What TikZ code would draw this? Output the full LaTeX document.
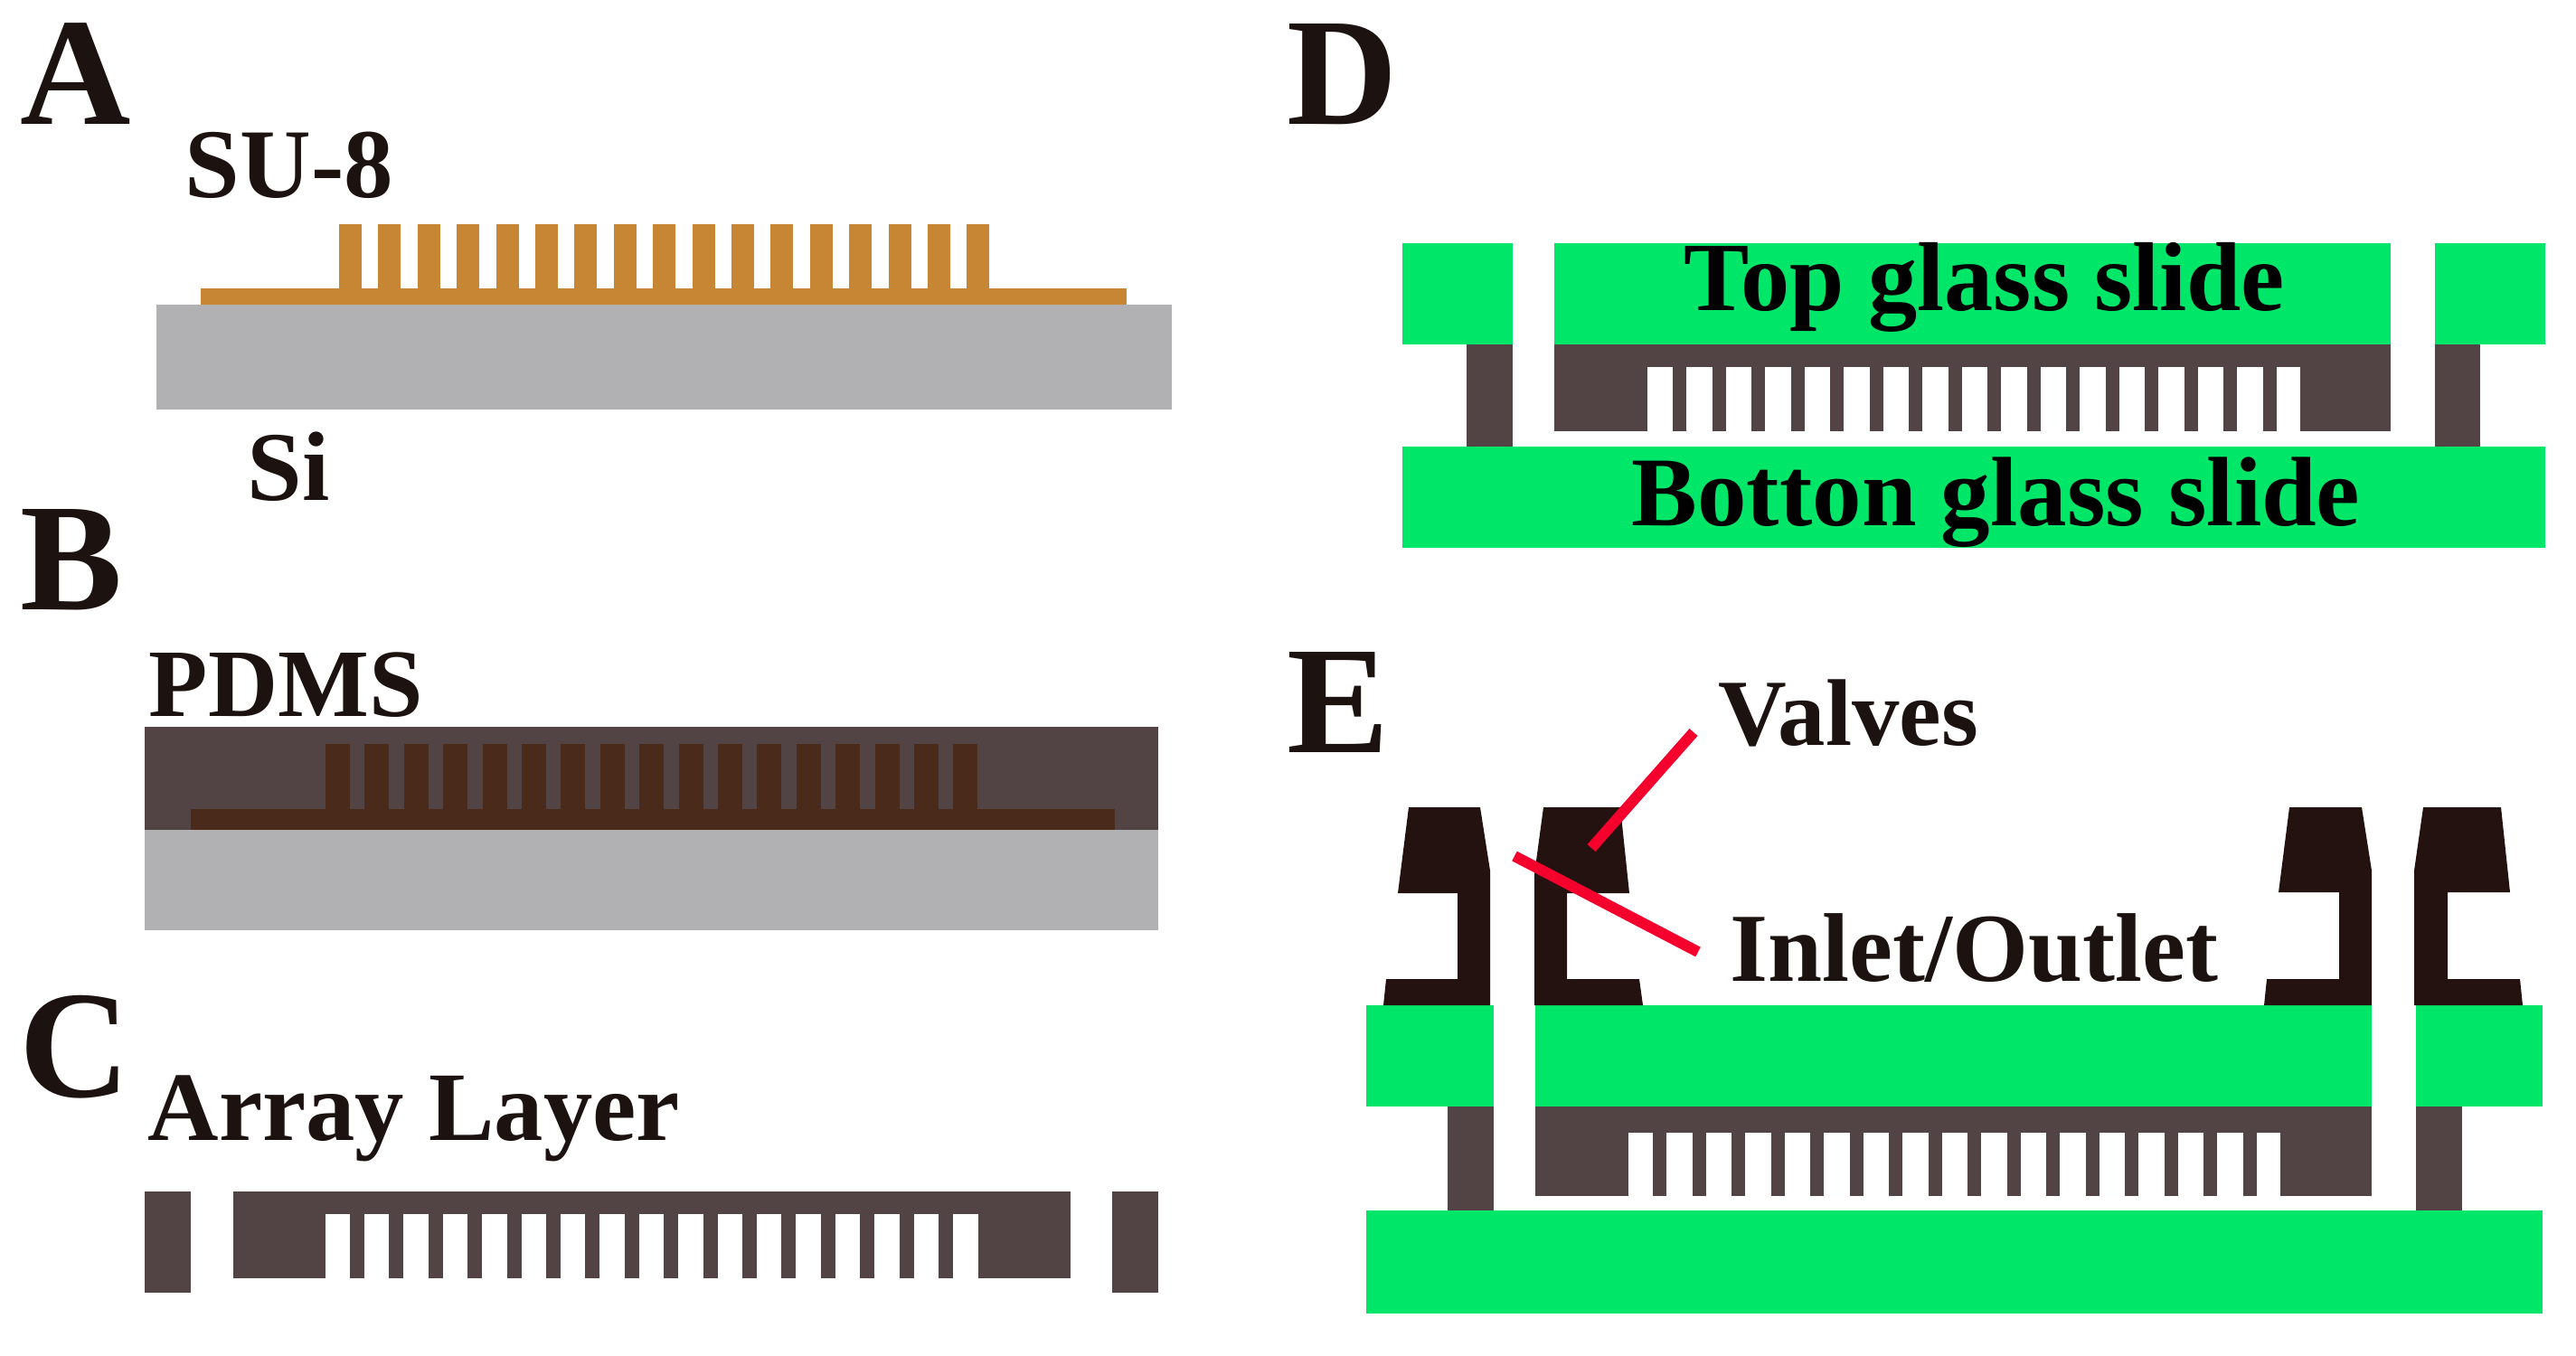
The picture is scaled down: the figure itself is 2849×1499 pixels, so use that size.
\documentclass[tikz,border=0pt]{standalone}
\usepackage{fontspec}
\setmainfont{Liberation Serif}
\usetikzlibrary{positioning}
\definecolor{six}{HTML}{B1B1B3}
\definecolor{sux}{HTML}{C68633}
\definecolor{pdmsx}{HTML}{524444}
\definecolor{moldx}{HTML}{4A2A1A}
\definecolor{glassx}{HTML}{00E668}
\definecolor{valvex}{HTML}{23120F}
\definecolor{redx}{HTML}{F5002D}
\definecolor{inkx}{HTML}{1C1210}
\tikzset{
  panel/.style={font=\fontsize{48.2}{50}\selectfont\bfseries,text=inkx,anchor=base west,inner sep=0pt},
  lab/.style={font=\fontsize{#1}{32}\selectfont\bfseries,text=inkx,anchor=base west,inner sep=0pt},
  lab/.default=30.4,
  ln/.style={redx,line width=0.12cm}
}

\begin{document}
\begin{tikzpicture}[x=0.01cm,y=-0.01cm]
\useasboundingbox (0,0) rectangle (2849,1499);
% A
\fill[six] (173,337) rectangle (1296,453);
\fill[sux] (222,319) rectangle (1246,337);
\foreach \i in {0,...,16} \fill[sux] ({375+43.4*\i},248) rectangle ++(25,72);
\node[panel] (pa) at (22,137) {A};
\node[lab=31] (su) at (204,218) {SU-8};
\node[lab=31] (si) at (273,553) {Si};
% B
\fill[six] (160,918) rectangle (1281,1029);
\fill[pdmsx] (160,804) rectangle (1281,918);
\fill[moldx] (211,895) rectangle (1233,918);
\foreach \i in {0,...,16} \fill[moldx] ({360+43.4*\i},823) rectangle ++(27,73);
\node[panel] (pb) at (22,674) {B};
\node[lab] (pd) at (164,792) {PDMS};
% C
\fill[pdmsx] (160,1318) rectangle (211,1430);
\fill[pdmsx] (1230,1318) rectangle (1281,1430);
\fill[pdmsx] (258,1318) rectangle (1184,1414);
\fill[white] (360,1343) rectangle (1082,1415);
\foreach \i in {0,...,15} \fill[pdmsx] ({387+43.4*\i},1343) rectangle ++(16,71);
\node[panel] (pc) at (21,1213) {C};
\node[lab=30.9] (ar) at (163,1261) {Array Layer};
% D
\fill[glassx] (1551,269) rectangle (1673,381);
\fill[glassx] (1719,269) rectangle (2644,381);
\fill[glassx] (2693,269) rectangle (2815,381);
\fill[glassx] (1551,494) rectangle (2815,606);
\fill[pdmsx] (1622,381) rectangle (1673,494);
\fill[pdmsx] (2693,381) rectangle (2743,494);
\fill[pdmsx] (1719,381) rectangle (2644,477);
\fill[white] (1822,406) rectangle (2544,478);
\foreach \i in {0,...,15} \fill[pdmsx] ({1850+43.5*\i},406) rectangle ++(15,71);
\node[panel] (pd2) at (1423,137) {D};
\node[lab=30.8,text=black] (tg) at (1862,343) {Top glass slide};
\node[lab=31,text=black] (bg) at (1804,581) {Botton glass slide};
% E
\fill[glassx] (1511,1112) rectangle (1652,1224);
\fill[glassx] (1698,1112) rectangle (2623,1224);
\fill[glassx] (2672,1112) rectangle (2812,1224);
\fill[glassx] (1511,1339) rectangle (2812,1453);
\fill[pdmsx] (1601,1224) rectangle (1652,1339);
\fill[pdmsx] (2672,1224) rectangle (2723,1339);
\fill[pdmsx] (1698,1224) rectangle (2623,1323);
\fill[white] (1801,1253) rectangle (2522,1324);
\foreach \i in {0,...,15} \fill[pdmsx] ({1828+43.5*\i},1253) rectangle ++(15,70);
% valves
\fill[valvex] (1558,893)--(1637,893)--(1648,963)--(1648,1112)--(1530,1112)--(1533,1083)--(1612,1083)--(1612,988)--(1546,988)--cycle;
\fill[valvex] (1707,893)--(1792,893)--(1802,988)--(1733,988)--(1733,1083)--(1813,1083)--(1817,1112)--(1697,1112)--(1697,967)--cycle;
\fill[valvex] (2532,893)--(2612,893)--(2623,963)--(2623,1112)--(2504,1112)--(2507,1083)--(2587,1083)--(2587,987)--(2520,987)--cycle;
\fill[valvex] (2680,893)--(2766,893)--(2776,987)--(2707,987)--(2707,1083)--(2787,1083)--(2790,1112)--(2670,1112)--(2670,963)--cycle;
\node[panel] (pe) at (1423,832) {E};
\node[lab=29.8] (va) at (1900,824) {Valves};
\node[lab=30.7] (io) at (1913,1085) {Inlet/Outlet};
\coordinate (V1) at (1873,810); \coordinate (V2) at (1760,938);
\coordinate (I1) at (1675,947); \coordinate (I2) at (1878,1053);
\draw[ln] (V1)--(V2);
\draw[ln] (I1)--(I2);
\end{tikzpicture}
\end{document}
